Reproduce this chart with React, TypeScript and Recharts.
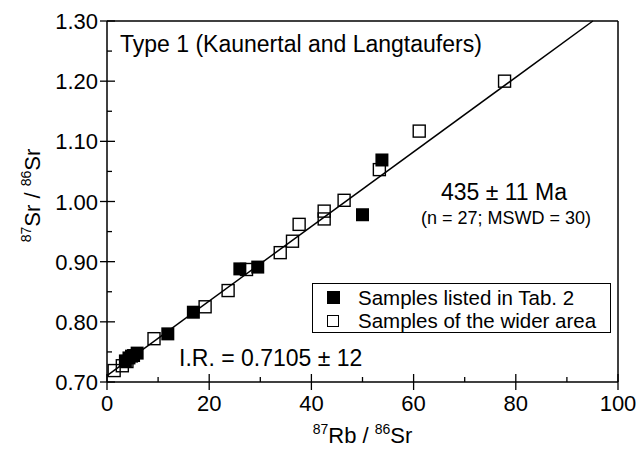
import {
  ScatterChart,
  Scatter,
  XAxis,
  YAxis,
  ReferenceLine,
  Label,
} from "recharts";

// 87Rb/86Sr and 87Sr/86Sr, samples listed in Tab. 2 (filled squares)
const rbListed = [3.6, 4.3, 4.8, 5.2, 5.9, 11.9, 16.9, 26.0, 29.5, 50.0, 53.8];
const srListed = [0.735, 0.74, 0.743, 0.744, 0.748, 0.78, 0.816, 0.888, 0.891, 0.978, 1.069];

// samples of the wider area (open squares)
const rbWider = [1.4, 3.0, 3.9, 9.2, 19.2, 23.7, 27.3, 33.9, 36.3, 37.6, 42.5, 42.5, 46.4, 53.3, 61.1, 77.8];
const srWider = [0.719, 0.727, 0.734, 0.772, 0.825, 0.852, 0.887, 0.915, 0.934, 0.962, 0.971, 0.984, 1.002, 1.053, 1.117, 1.2];

const xTicks = [0, 10, 20, 30, 40, 50, 60, 70, 80, 90, 100];
const yTicks = [0.7, 0.75, 0.8, 0.85, 0.9, 0.95, 1.0, 1.05, 1.1, 1.15, 1.2, 1.25, 1.3];

// isochron
const initialRatio = 0.7105;
const slope = 0.0062;
const yMax = 1.3;

const listed = rbListed.map((x, i) => ({ x, y: srListed[i] }));
const wider = rbWider.map((x, i) => ({ x, y: srWider[i] }));

const FONT = '"Liberation Sans", Arial, Helvetica, sans-serif';

const FilledSquare = (p: any) => (
  <rect x={p.cx - 6.5} y={p.cy - 6.5} width={13} height={13} fill="#000" />
);

const OpenSquare = (p: any) => (
  <rect
    x={p.cx - 6}
    y={p.cy - 6}
    width={12}
    height={12}
    fill="none"
    stroke="#000"
    strokeWidth={1.4}
  />
);

const XTick = (p: any) => {
  const v = p.payload.value;
  const major = v % 20 === 0;
  return (
    <g>
      <line
        x1={p.x}
        x2={p.x}
        y1={p.y - (major ? 8 : 5)}
        y2={p.y + (major ? 8 : 0)}
        stroke="#000"
        strokeWidth={1.3}
      />
      {major && (
        <text x={p.x} y={p.y + 29} textAnchor="middle" fontSize={22} fontFamily={FONT} fill="#000">
          {v}
        </text>
      )}
    </g>
  );
};

const YTick = (p: any) => {
  const v = p.payload.value;
  const major = Math.round(v * 100) % 10 === 0;
  return (
    <g>
      <line
        x1={p.x - (major ? 7 : 0)}
        x2={p.x + (major ? 8 : 5)}
        y1={p.y}
        y2={p.y}
        stroke="#000"
        strokeWidth={1.3}
      />
      {major && (
        <text x={p.x - 9} y={p.y + 8} textAnchor="end" fontSize={22} fontFamily={FONT} fill="#000">
          {v.toFixed(2)}
        </text>
      )}
    </g>
  );
};

const XTitle = (p: any) => {
  const { x, y, width } = p.viewBox;
  return (
    <text x={x + width / 2} y={y + 61} textAnchor="middle" fontFamily={FONT} fill="#000" fontSize={22}>
      <tspan fontSize={14} dy={-9}>87</tspan>
      <tspan dy={9}>Rb / </tspan>
      <tspan fontSize={14} dy={-9}>86</tspan>
      <tspan dy={9}>Sr</tspan>
    </text>
  );
};

const YTitle = (p: any) => {
  const { x, y, height } = p.viewBox;
  const cx = x - 66;
  const cy = y + height / 2 - 6;
  return (
    <text
      x={cx}
      y={cy}
      textAnchor="middle"
      transform={`rotate(-90, ${cx}, ${cy})`}
      fontFamily={FONT}
      fill="#000"
      fontSize={22}
    >
      <tspan fontSize={14} dy={-9}>87</tspan>
      <tspan dy={9}>Sr / </tspan>
      <tspan fontSize={14} dy={-9}>86</tspan>
      <tspan dy={9}>Sr</tspan>
    </text>
  );
};

const LegendBox = () => (
  <div
    style={{
      position: "absolute",
      left: 312,
      top: 283,
      border: "1.3px solid #000",
      background: "#fff",
      width: 299,
      height: 50,
      fontFamily: FONT,
      fontSize: 20.5,
      color: "#000",
      boxSizing: "border-box",
      padding: "2px 0 0 14px",
      lineHeight: "23px",
    }}
  >
    <div style={{ display: "flex", alignItems: "center" }}>
      <span style={{ display: "inline-block", width: 13, height: 13, background: "#000", marginRight: 18 }} />
      Samples listed in Tab. 2
    </div>
    <div style={{ display: "flex", alignItems: "center" }}>
      <span
        style={{
          display: "inline-block",
          width: 12,
          height: 12,
          border: "1.4px solid #000",
          boxSizing: "border-box",
          marginRight: 19,
        }}
      />
      Samples of the wider area
    </div>
  </div>
);

const textStyle = {
  position: "absolute" as const,
  fontFamily: FONT,
  color: "#000",
  whiteSpace: "nowrap" as const,
};

export default function App() {
  return (
    <div style={{ position: "absolute", left: 0, top: 0, width: 643, height: 452, background: "#fff" }}>
      <ScatterChart
        width={643}
        height={452}
        margin={{ top: 21, right: 25, bottom: 69, left: 106 }}
      >
        <XAxis
          type="number"
          dataKey="x"
          domain={[0, 100]}
          ticks={xTicks}
          interval={0}
          height={1}
          tickSize={0}
          tickMargin={0}
          tick={<XTick />}
          axisLine={{ stroke: "#000", strokeWidth: 1.5 }}
        >
          <Label content={<XTitle />} />
        </XAxis>
        <YAxis
          type="number"
          dataKey="y"
          domain={[0.7, 1.3]}
          ticks={yTicks}
          interval={0}
          width={1}
          tickSize={0}
          tickMargin={0}
          tick={<YTick />}
          axisLine={{ stroke: "#000", strokeWidth: 1.5 }}
        >
          <Label content={<YTitle />} />
        </YAxis>
        <ReferenceLine y={1.3} stroke="#000" strokeWidth={1.5} />
        <ReferenceLine x={100} stroke="#000" strokeWidth={1.5} />
        <ReferenceLine
          segment={[
            { x: 0, y: initialRatio },
            { x: (yMax - initialRatio) / slope, y: yMax },
          ]}
          stroke="#000"
          strokeWidth={1.5}
        />
        <Scatter data={wider} shape={<OpenSquare />} isAnimationActive={false} />
        <Scatter data={listed} shape={<FilledSquare />} isAnimationActive={false} />
      </ScatterChart>
      <LegendBox />
      <div style={{ ...textStyle, left: 120, top: 31, fontSize: 23, lineHeight: "26px" }}>
        Type 1 (Kaunertal and Langtaufers)
      </div>
      <div style={{ ...textStyle, left: 404, width: 200, textAlign: "center", top: 178, fontSize: 23, lineHeight: "28px" }}>
        435 ± 11 Ma
      </div>
      <div style={{ ...textStyle, left: 406, width: 200, textAlign: "center", top: 207, fontSize: 18, lineHeight: "22px" }}>
        (n = 27; MSWD = 30)
      </div>
      <div style={{ ...textStyle, left: 179, top: 344, fontSize: 23, lineHeight: "28px" }}>
        I.R. = 0.7105 ± 12
      </div>
    </div>
  );
}
